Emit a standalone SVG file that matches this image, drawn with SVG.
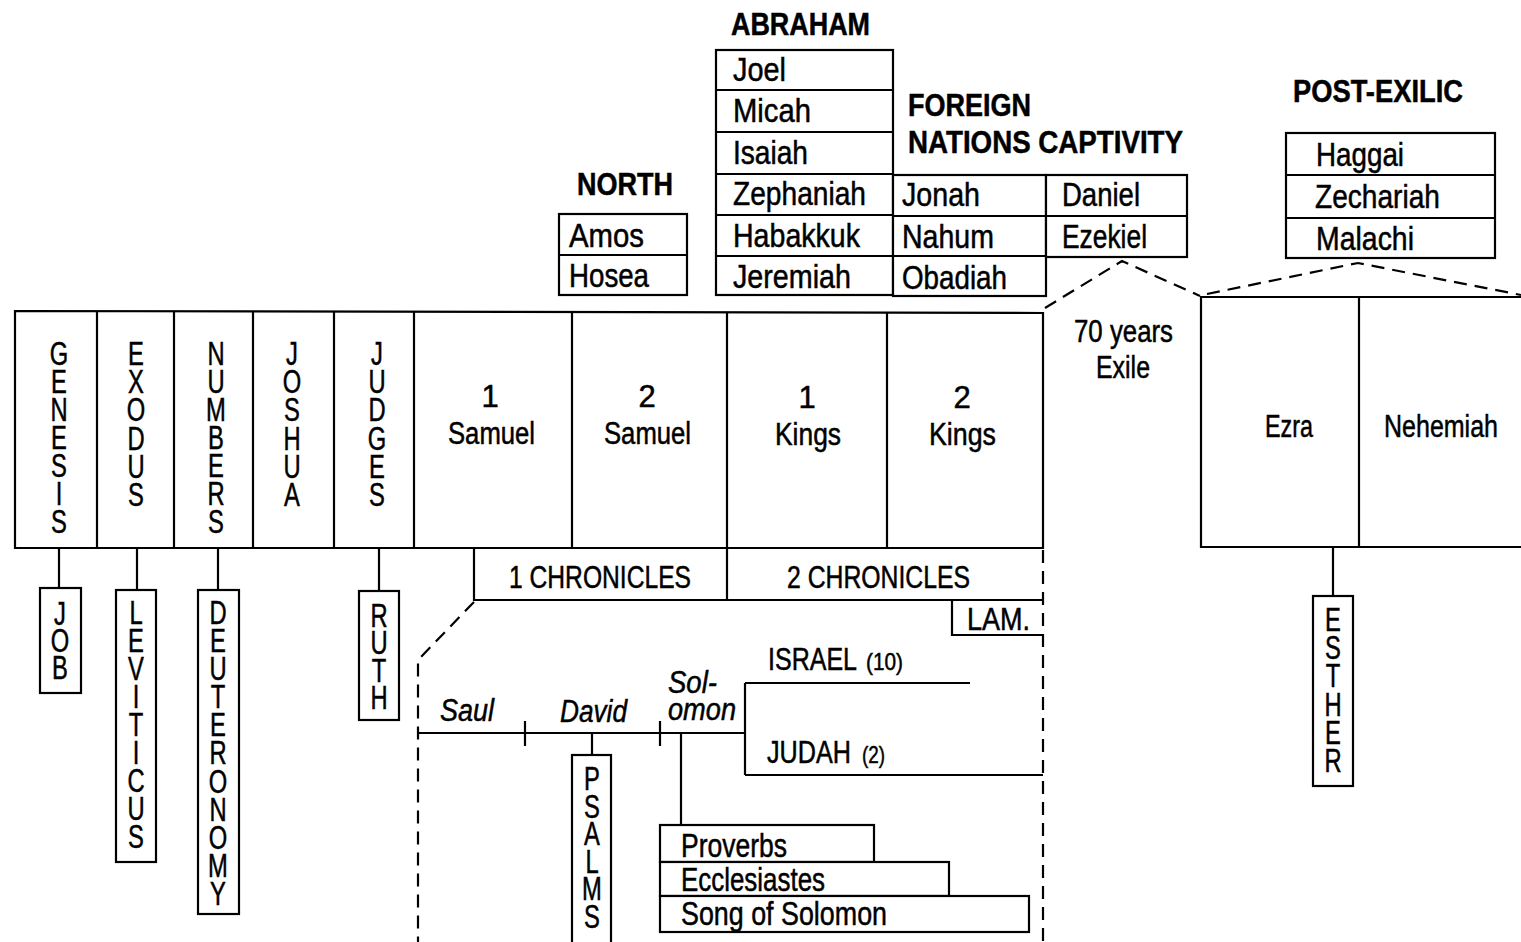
<svg xmlns="http://www.w3.org/2000/svg" width="1521" height="942" viewBox="0 0 1521 942">
<style>
.ln{stroke:#000;stroke-width:2.2;fill:none}
.bx{fill:#fff;stroke:#000;stroke-width:2.2}
.ds{stroke:#000;stroke-width:2.2;fill:none;stroke-dasharray:13 8}
text{font-family:"Liberation Sans",Arial,sans-serif;fill:#000;stroke:#000;stroke-width:0.5}
.h{font-size:32px;font-weight:bold}
.b{font-size:33px}
.m{font-size:31px}
.s{font-size:24px}
.c{text-anchor:middle}
.i{font-style:italic}
.v{font-size:33px;text-anchor:middle}
</style>
<rect width="1521" height="942" fill="#fff"/>

<g id="headings">
<text class="h" x="731" y="35" textLength="139" lengthAdjust="spacingAndGlyphs">ABRAHAM</text>
<text class="h" x="577" y="195" textLength="96" lengthAdjust="spacingAndGlyphs">NORTH</text>
<text class="h" x="908" y="116" textLength="123" lengthAdjust="spacingAndGlyphs">FOREIGN</text>
<text class="h" x="908" y="153" textLength="275" lengthAdjust="spacingAndGlyphs">NATIONS CAPTIVITY</text>
<text class="h" x="1293" y="102" textLength="170" lengthAdjust="spacingAndGlyphs">POST-EXILIC</text>
</g>

<g id="north">
<rect class="bx" x="559" y="214" width="128" height="81"/>
<path class="ln" d="M559 255H687"/>
<text class="b" x="569" y="247" textLength="75" lengthAdjust="spacingAndGlyphs">Amos</text>
<text class="b" x="569" y="287" textLength="80" lengthAdjust="spacingAndGlyphs">Hosea</text>
</g>

<g id="abraham">
<rect class="bx" x="716" y="50" width="177" height="245"/>
<path class="ln" d="M716 90H893M716 132H893M716 174H893M716 215H893M716 256H893"/>
<text class="b" x="733" y="81" textLength="53" lengthAdjust="spacingAndGlyphs">Joel</text>
<text class="b" x="733" y="122" textLength="78" lengthAdjust="spacingAndGlyphs">Micah</text>
<text class="b" x="733" y="164" textLength="75" lengthAdjust="spacingAndGlyphs">Isaiah</text>
<text class="b" x="733" y="205" textLength="133" lengthAdjust="spacingAndGlyphs">Zephaniah</text>
<text class="b" x="733" y="247" textLength="127" lengthAdjust="spacingAndGlyphs">Habakkuk</text>
<text class="b" x="733" y="288" textLength="118" lengthAdjust="spacingAndGlyphs">Jeremiah</text>
</g>

<g id="foreign">
<rect class="bx" x="893" y="175" width="153" height="121"/>
<path class="ln" d="M893 216H1046M893 256H1046"/>
<text class="b" x="902" y="206" textLength="78" lengthAdjust="spacingAndGlyphs">Jonah</text>
<text class="b" x="902" y="248" textLength="92" lengthAdjust="spacingAndGlyphs">Nahum</text>
<text class="b" x="902" y="289" textLength="105" lengthAdjust="spacingAndGlyphs">Obadiah</text>
</g>

<g id="captivity">
<rect class="bx" x="1046" y="175" width="141" height="82"/>
<path class="ln" d="M1046 216H1187"/>
<text class="b" x="1062" y="206" textLength="78" lengthAdjust="spacingAndGlyphs">Daniel</text>
<text class="b" x="1062" y="248" textLength="85" lengthAdjust="spacingAndGlyphs">Ezekiel</text>
</g>

<g id="postexilic">
<rect class="bx" x="1286" y="133" width="209" height="125"/>
<path class="ln" d="M1286 175H1495M1286 218H1495"/>
<text class="b" x="1316" y="166" textLength="88" lengthAdjust="spacingAndGlyphs">Haggai</text>
<text class="b" x="1315" y="208" textLength="125" lengthAdjust="spacingAndGlyphs">Zechariah</text>
<text class="b" x="1316" y="250" textLength="98" lengthAdjust="spacingAndGlyphs">Malachi</text>
</g>

<g id="main-band">
<path class="ln" d="M15 311L1043 313V548H15Z"/>
<path class="ln" d="M97 311V548M174 311V548M253 311V548M334 312V548M414 312V548M572 312V548M727 312V548M887 313V548"/>
<text class="v" transform="translate(59 0) scale(0.72 1)"><tspan x="0" y="365">G</tspan><tspan x="0" y="393">E</tspan><tspan x="0" y="421">N</tspan><tspan x="0" y="449">E</tspan><tspan x="0" y="477">S</tspan><tspan x="0" y="505">I</tspan><tspan x="0" y="533">S</tspan></text>
<text class="v" transform="translate(136 0) scale(0.72 1)"><tspan x="0" y="365">E</tspan><tspan x="0" y="393">X</tspan><tspan x="0" y="421">O</tspan><tspan x="0" y="450">D</tspan><tspan x="0" y="478">U</tspan><tspan x="0" y="506">S</tspan></text>
<text class="v" transform="translate(216 0) scale(0.72 1)"><tspan x="0" y="365">N</tspan><tspan x="0" y="393">U</tspan><tspan x="0" y="421">M</tspan><tspan x="0" y="449">B</tspan><tspan x="0" y="477">E</tspan><tspan x="0" y="505">R</tspan><tspan x="0" y="533">S</tspan></text>
<text class="v" transform="translate(292 0) scale(0.72 1)"><tspan x="0" y="365">J</tspan><tspan x="0" y="393">O</tspan><tspan x="0" y="421">S</tspan><tspan x="0" y="450">H</tspan><tspan x="0" y="478">U</tspan><tspan x="0" y="506">A</tspan></text>
<text class="v" transform="translate(377 0) scale(0.72 1)"><tspan x="0" y="365">J</tspan><tspan x="0" y="393">U</tspan><tspan x="0" y="421">D</tspan><tspan x="0" y="450">G</tspan><tspan x="0" y="478">E</tspan><tspan x="0" y="506">S</tspan></text>
<text class="m c" x="490" y="407">1</text>
<text class="m" x="448" y="444" textLength="87" lengthAdjust="spacingAndGlyphs">Samuel</text>
<text class="m c" x="647" y="407">2</text>
<text class="m" x="604" y="444" textLength="87" lengthAdjust="spacingAndGlyphs">Samuel</text>
<text class="m c" x="807" y="408">1</text>
<text class="m" x="775" y="445" textLength="66" lengthAdjust="spacingAndGlyphs">Kings</text>
<text class="m c" x="962" y="408">2</text>
<text class="m" x="929" y="445" textLength="67" lengthAdjust="spacingAndGlyphs">Kings</text>
</g>

<g id="exile">
<text class="m" x="1074" y="342" textLength="99" lengthAdjust="spacingAndGlyphs">70 years</text>
<text class="m" x="1096" y="378" textLength="54" lengthAdjust="spacingAndGlyphs">Exile</text>
</g>

<g id="ezra-nehemiah">
<path class="ln" d="M1521 297H1201V547H1521M1359 297V547"/>
<text class="m" x="1265" y="437" textLength="48" lengthAdjust="spacingAndGlyphs">Ezra</text>
<text class="m" x="1384" y="437" textLength="114" lengthAdjust="spacingAndGlyphs">Nehemiah</text>
</g>

<g id="job">
<rect class="bx" x="40" y="588" width="41" height="105"/>
<text class="v" transform="translate(60 0) scale(0.72 1)"><tspan x="0" y="625">J</tspan><tspan x="0" y="652">O</tspan><tspan x="0" y="679">B</tspan></text>
</g>
<g id="leviticus">
<rect class="bx" x="116" y="590" width="40" height="272"/>
<text class="v" transform="translate(136 0) scale(0.72 1)"><tspan x="0" y="624">L</tspan><tspan x="0" y="652">E</tspan><tspan x="0" y="680">V</tspan><tspan x="0" y="708">I</tspan><tspan x="0" y="736">T</tspan><tspan x="0" y="764">I</tspan><tspan x="0" y="792">C</tspan><tspan x="0" y="820">U</tspan><tspan x="0" y="848">S</tspan></text>
</g>
<g id="deuteronomy">
<rect class="bx" x="198" y="590" width="41" height="324"/>
<text class="v" transform="translate(218 0) scale(0.72 1)"><tspan x="0" y="624">D</tspan><tspan x="0" y="652">E</tspan><tspan x="0" y="680">U</tspan><tspan x="0" y="708">T</tspan><tspan x="0" y="736">E</tspan><tspan x="0" y="764">R</tspan><tspan x="0" y="793">O</tspan><tspan x="0" y="821">N</tspan><tspan x="0" y="849">O</tspan><tspan x="0" y="877">M</tspan><tspan x="0" y="905">Y</tspan></text>
</g>
<g id="ruth">
<rect class="bx" x="359" y="591" width="40" height="129"/>
<text class="v" transform="translate(379 0) scale(0.72 1)"><tspan x="0" y="627">R</tspan><tspan x="0" y="654">U</tspan><tspan x="0" y="682">T</tspan><tspan x="0" y="709">H</tspan></text>
</g>
<g id="esther">
<rect class="bx" x="1313" y="596" width="40" height="190"/>
<text class="v" transform="translate(1333 0) scale(0.72 1)"><tspan x="0" y="631">E</tspan><tspan x="0" y="659">S</tspan><tspan x="0" y="687">T</tspan><tspan x="0" y="716">H</tspan><tspan x="0" y="744">E</tspan><tspan x="0" y="772">R</tspan></text>
</g>

<g id="chronicles">
<path class="ln" d="M474 548V600H1043M727 548V600"/>
<text class="m" x="509" y="588" textLength="182" lengthAdjust="spacingAndGlyphs">1 CHRONICLES</text>
<text class="m" x="787" y="588" textLength="183" lengthAdjust="spacingAndGlyphs">2 CHRONICLES</text>
</g>
<g id="lamentations">
<path class="ln" d="M952 600V635H1043"/>
<text class="m" x="967" y="630" textLength="63" lengthAdjust="spacingAndGlyphs">LAM.</text>
</g>

<g id="kingdom">
<text class="m i" x="440" y="721" textLength="54" lengthAdjust="spacingAndGlyphs">Saul</text>
<text class="m i" x="560" y="722" textLength="67" lengthAdjust="spacingAndGlyphs">David</text>
<text class="m i" x="668" y="693" textLength="49" lengthAdjust="spacingAndGlyphs">Sol-</text>
<text class="m i" x="668" y="720" textLength="68" lengthAdjust="spacingAndGlyphs">omon</text>
<text class="m" x="768" y="670"><tspan textLength="89" lengthAdjust="spacingAndGlyphs">ISRAEL</tspan><tspan class="s" x="866" textLength="37" lengthAdjust="spacingAndGlyphs">(10)</tspan></text>
<text class="m" x="767" y="763"><tspan textLength="84" lengthAdjust="spacingAndGlyphs">JUDAH</tspan><tspan class="s" x="862" textLength="23" lengthAdjust="spacingAndGlyphs">(2)</tspan></text>
</g>

<g id="psalms">
<rect class="bx" x="572" y="755" width="39" height="200"/>
<text class="v" transform="translate(592 0) scale(0.72 1)"><tspan x="0" y="790">P</tspan><tspan x="0" y="818">S</tspan><tspan x="0" y="845">A</tspan><tspan x="0" y="873">L</tspan><tspan x="0" y="900">M</tspan><tspan x="0" y="928">S</tspan></text>
</g>

<g id="solomon-books">
<rect class="bx" x="660" y="825" width="214" height="37"/>
<rect class="bx" x="660" y="862" width="289" height="34"/>
<rect class="bx" x="660" y="896" width="369" height="36"/>
<text class="b" x="681" y="857" textLength="106" lengthAdjust="spacingAndGlyphs">Proverbs</text>
<text class="b" x="681" y="891" textLength="144" lengthAdjust="spacingAndGlyphs">Ecclesiastes</text>
<text class="b" x="681" y="925" textLength="206" lengthAdjust="spacingAndGlyphs">Song of Solomon</text>
</g>

<g id="connectors">
<path class="ln" d="M59 548V588M137 548V590M218 548V590M379 548V591M1333 547V596"/>
<path class="ln" d="M418 733H745M525 721V746M660 721V746M592 733V755M681 733V825M745 683V775M745 683H970M745 775H1043"/>
<path class="ds" d="M474 602L418 660V942M1043 550V942"/>
<path class="ds" d="M1045 308L1122 261L1200 296M1207 294L1358 263L1521 295"/>
</g>
</svg>
